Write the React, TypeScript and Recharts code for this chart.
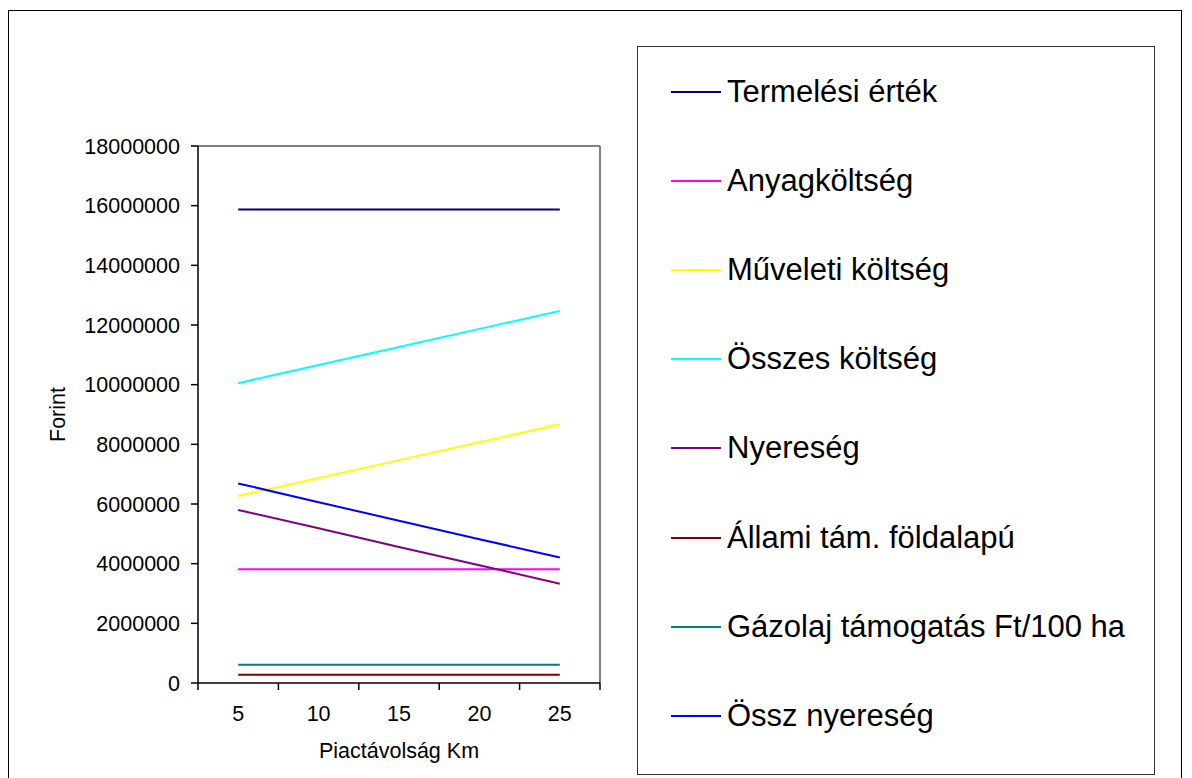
import React from 'react';
import { LineChart, Line, XAxis, YAxis, CartesianGrid, Legend } from 'recharts';

const km = ['5', '10', '15', '20', '25'];
const termelesiErtek = [15870000, 15870000, 15870000, 15870000, 15870000];
const anyagkoltseg = [3810000, 3810000, 3810000, 3810000, 3810000];
const muveletiKoltseg = [6270000, 6870000, 7470000, 8070000, 8670000];
const osszesKoltseg = [10050000, 10660000, 11260000, 11870000, 12470000];
const nyereseg = [5800000, 5190000, 4560000, 3950000, 3330000];
const allamiTam = [280000, 280000, 280000, 280000, 280000];
const gazolajTam = [610000, 610000, 610000, 610000, 610000];
const osszNyereseg = [6690000, 6060000, 5440000, 4820000, 4210000];
const yTicks = [0, 2000000, 4000000, 6000000, 8000000, 10000000, 12000000, 14000000, 16000000, 18000000];

const series = [
  { key: 'termeles', name: 'Termelési érték', color: '#000080', values: termelesiErtek },
  { key: 'anyag', name: 'Anyagköltség', color: '#FF00FF', values: anyagkoltseg },
  { key: 'muveleti', name: 'Műveleti költség', color: '#FFFF00', values: muveletiKoltseg },
  { key: 'osszes', name: 'Összes költség', color: '#00FFFF', values: osszesKoltseg },
  { key: 'nyereseg', name: 'Nyereség', color: '#800080', values: nyereseg },
  { key: 'allami', name: 'Állami tám. földalapú', color: '#800000', values: allamiTam },
  { key: 'gazolaj', name: 'Gázolaj támogatás Ft/100 ha', color: '#008080', values: gazolajTam },
  { key: 'osszNy', name: 'Össz nyereség', color: '#0000FF', values: osszNyereseg },
];

const data = km.map((k, i) => {
  const row: Record<string, string | number> = { km: k };
  series.forEach((s) => { row[s.key] = s.values[i]; });
  return row;
});

const FONT = '"Liberation Sans", Arial, sans-serif';
const AXIS_FONT = 21.5;

// Excel style: tick marks sit between categories, labels in the middle
const XTick = (props: any) => {
  const { x, y, payload, index, width, visibleTicksCount } = props;
  const half = width / visibleTicksCount / 2;
  return (
    <g>
      <line x1={x - half} y1={y} x2={x - half} y2={y + 7} stroke="#000" strokeWidth={1.5} />
      {index === visibleTicksCount - 1 && (
        <line x1={x + half} y1={y} x2={x + half} y2={y + 7} stroke="#000" strokeWidth={1.5} />
      )}
      <text x={x} y={y + 38} textAnchor="middle" fill="#000" fontSize={AXIS_FONT} fontFamily={FONT}>
        {payload.value}
      </text>
    </g>
  );
};

const renderLegend = (props: any) => {
  const order = series.map((s) => s.name);
  const items = [...(props.payload || [])].sort(
    (a: any, b: any) => order.indexOf(a.value) - order.indexOf(b.value)
  );
  return (
    <div
      style={{
        width: 518,
        height: 729,
        border: '1px solid #333',
        boxSizing: 'border-box',
        background: '#fff',
        marginTop: -1,
      }}
    >
      {items.map((it: any) => (
        <div
          key={it.value}
          style={{ height: 89.2, display: 'flex', alignItems: 'center', paddingLeft: 33 }}
        >
          <div style={{ width: 50, height: 2, background: it.color, marginRight: 6 }} />
          <span style={{ fontFamily: FONT, fontSize: 31, color: '#000', whiteSpace: 'nowrap' }}>{it.value}</span>
        </div>
      ))}
    </div>
  );
};

export default function App() {
  return (
    <div style={{ position: 'relative', width: 1184, height: 770, overflow: 'hidden', background: '#fff' }}>
      <div
        style={{
          position: 'absolute',
          left: 0,
          top: 2,
          width: 1174,
          height: 800,
          border: '1.5px solid #000',
          boxSizing: 'border-box',
        }}
      />
      <LineChart
        width={1184}
        height={770}
        data={data}
        margin={{ top: 138, right: 592, bottom: 20, left: 40 }}
        style={{ fontFamily: FONT }}
      >
        <CartesianGrid
          stroke="#808080"
          strokeWidth={2}
          horizontalCoordinatesGenerator={({ offset }: any) => [offset.top]}
          verticalCoordinatesGenerator={({ offset }: any) => [offset.left + offset.width]}
        />
        <XAxis
          dataKey="km"
          scale="band"
          height={75}
          tickSize={0}
          tickMargin={0}
          tickLine={false}
          axisLine={{ stroke: '#000', strokeWidth: 1.5 }}
          tick={<XTick />}
          interval={0}
          label={{ value: 'Piactávolság Km', position: 'insideBottom', offset: 0, fill: '#000', fontSize: AXIS_FONT }}
        />
        <YAxis
          width={150}
          domain={[0, 18000000]}
          ticks={yTicks}
          interval={0}
          tickSize={7}
          tickMargin={11}
          tickLine={{ stroke: '#000', strokeWidth: 1.5 }}
          axisLine={{ stroke: '#000', strokeWidth: 1.5 }}
          tick={{ fill: '#000', fontSize: AXIS_FONT, fontFamily: FONT }}
          label={{
            value: 'Forint',
            angle: -90,
            position: 'insideLeft',
            offset: 9,
            fill: '#000',
            fontSize: AXIS_FONT,
            style: { textAnchor: 'middle' },
          }}
        />
        <Legend
          layout="vertical"
          align="center"
          verticalAlign="middle"
          width={518}
          height={729}
          wrapperStyle={{ left: 629, top: 39 }}
          content={renderLegend}
        />
        {series.map((s) => (
          <Line
            key={s.key}
            type="linear"
            dataKey={s.key}
            name={s.name}
            stroke={s.color}
            strokeWidth={2}
            dot={false}
            activeDot={false}
            isAnimationActive={false}
          />
        ))}
      </LineChart>
    </div>
  );
}
